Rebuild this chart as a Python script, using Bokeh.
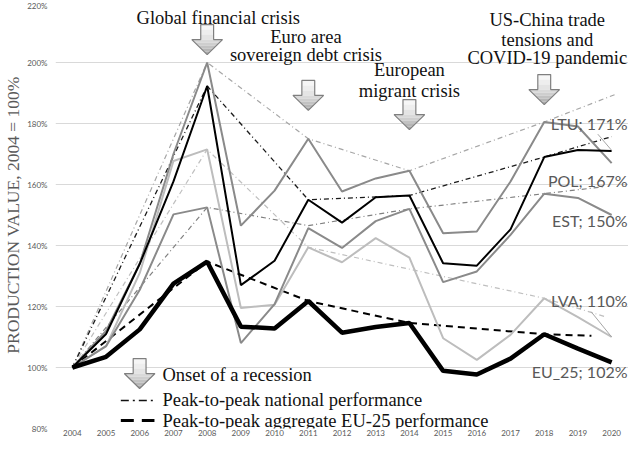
from bokeh.plotting import figure
from bokeh.models import Range1d, FixedTicker, Label
from bokeh.embed import file_html
from bokeh.resources import INLINE

# ---------------- data ----------------
years = list(range(2004, 2021))
ltu = [100, 112, 134, 170, 200, 146.5, 158, 175, 157.7, 162, 164.5, 144, 144.6, 161, 180.5, 179, 167]
pol = [100, 111, 134, 161, 192.3, 127, 135, 155, 147.5, 155.8, 156.4, 134.2, 133.4, 145.3, 169, 171.3, 171]
est = [100, 107, 125.5, 150.2, 152.5, 108, 120.8, 145.7, 139.2, 148, 152, 128, 131.5, 143.5, 157, 155.6, 150]
lva = [100, 107, 131, 167.7, 171.5, 119.5, 120.6, 139.4, 134.5, 142.4, 136, 109.6, 102.5, 110.7, 122.7, 116.5, 110]
eu25 = [100, 103.5, 112.5, 127.5, 134.7, 113.4, 112.8, 121.8, 111.4, 113.3, 114.6, 98.9, 97.7, 102.9, 110.9, 106.2, 101.7]

# peak-to-peak lines (years, values)
ltu_p2p_x = [2004, 2008, 2011, 2014, 2018, 2020.1]
ltu_p2p_y = [100, 200, 175, 164.5, 180.5, 189.5]
pol_p2p_x = [2004, 2008, 2011, 2014, 2018, 2020]
pol_p2p_y = [100, 192.3, 155, 156.4, 169, 175.7]
est_p2p_x = [2004, 2008, 2011, 2014, 2018, 2019.8]
est_p2p_y = [100, 152.5, 146.5, 152, 157, 159.3]
lva_p2p_x = [2004, 2008, 2011, 2018, 2019.8]
lva_p2p_y = [100, 171.5, 139.4, 122.7, 116.7]
eu_p2p_x = [2004, 2008, 2011, 2014, 2018, 2019.4]
eu_p2p_y = [100, 134.7, 121.8, 114.6, 110.9, 110.4]

end_labels = ["LTU; 171%", "POL; 167%", "EST; 150%", "LVA; 110%", "EU_25; 102%"]
end_label_y = [180.0, 161.3, 148.2, 122.0, 98.7]
# data-label leader lines (label side -> line end)
leader_x = [[2019.59, 2020.0], [2019.39, 2020.0]]
leader_y = [[176.5, 171.2], [118.3, 110.0]]

event_years = [2008, 2011, 2014, 2018]
event_tip = [202.6, 184.3, 178.0, 186.2]
event_text = [["Global financial crisis"],
              ["Euro area", "sovereign debt crisis"],
              ["European", "migrant crisis"],
              ["US-China trade", "tensions and", "COVID-19 pandemic"]]
event_text_x = [2008.33, 2010.93, 2014.0, 2018.09]
event_text_y = [[214.75], [208.2, 202.3], [197.4, 190.8], [213.8, 207.5, 201.6]]

legend_text = ["Onset of a recession", "Peak-to-peak national performance",
               "Peak-to-peak aggregate EU-25 performance"]

y_ticks = [80, 100, 120, 140, 160, 180, 200, 220]
y_tick_labels = ["80%", "100%", "120%", "140%", "160%", "180%", "200%", "220%"]

# ---------------- figure ----------------
W, H = 628, 438
LEFT, TOP, BOTTOM = 49, 1, 10
X0, X1 = 2003.5, 2020.5
Y0, Y1 = 80, 220
FRAME_W, FRAME_H = W - LEFT, H - TOP - BOTTOM
PX_X = FRAME_W / (X1 - X0)
PX_Y = FRAME_H / (Y1 - Y0)

p = figure(width=W, height=H, output_backend="svg", toolbar_location=None,
           x_range=Range1d(X0, X1), y_range=Range1d(Y0, Y1),
           min_border_left=LEFT, min_border_right=0,
           min_border_top=TOP, min_border_bottom=BOTTOM)
p.outline_line_color = None
p.background_fill_color = "white"
p.xgrid.grid_line_color = None
p.ygrid.grid_line_color = "#d9d9d9"
p.ygrid.grid_line_width = 1

p.yaxis.ticker = FixedTicker(ticks=y_ticks)
p.yaxis.major_label_overrides = {t: l for t, l in zip(y_ticks, y_tick_labels)}
p.xaxis.ticker = FixedTicker(ticks=years)
p.xaxis.major_label_overrides = {y: str(y) for y in years}
for ax in (p.xaxis[0], p.yaxis[0]):
    ax.axis_line_color = None
    ax.major_tick_line_color = None
    ax.minor_tick_line_color = None
    ax.major_tick_out = 0
    ax.major_tick_in = 0
    ax.minor_tick_out = 0
    ax.minor_tick_in = 0
    ax.major_label_text_font = "Lato"
    ax.major_label_text_font_size = "8px"
    ax.major_label_text_color = "#595959"
p.xaxis.major_label_standoff = 1
p.yaxis.major_label_standoff = 8
p.yaxis.axis_label = "PRODUCTION VALUE, 2004 = 100%"
p.yaxis.axis_label_text_font = "Liberation Serif"
p.yaxis.axis_label_text_font_style = "normal"
p.yaxis.axis_label_text_font_size = "17.5px"
p.yaxis.axis_label_text_color = "#595959"
p.yaxis.axis_label_standoff = 1

# ---------------- peak-to-peak lines ----------------
DD = "5 3 1 3"
p.line(ltu_p2p_x, ltu_p2p_y, line_color="#a6a6a6", line_width=1.2, line_dash=DD)
p.line(pol_p2p_x, pol_p2p_y, line_color="#1a1a1a", line_width=1.3, line_dash=DD)
p.line(est_p2p_x, est_p2p_y, line_color="#808080", line_width=1.2, line_dash=DD)
p.line(lva_p2p_x, lva_p2p_y, line_color="#bfbfbf", line_width=1.2, line_dash=DD)
p.line(eu_p2p_x, eu_p2p_y, line_color="#000000", line_width=2, line_dash="7 5")

# ---------------- series ----------------
p.line(years, lva, line_color="#bdbdbd", line_width=2)
p.line(years, est, line_color="#8a8a8a", line_width=2)
p.line(years, ltu, line_color="#8a8a8a", line_width=2)
p.line(years, pol, line_color="#000000", line_width=2)
p.line(years, eu25, line_color="#000000", line_width=4.5)

p.multi_line(leader_x, leader_y, line_color="#a6a6a6", line_width=1)

label_right = X0 + (W - 1 - LEFT) / PX_X
for lab, ly in zip(end_labels, end_label_y):
    p.add_layout(Label(x=label_right, y=ly, text=lab, text_font="Lato",
                       text_font_size="16px", text_color="#595959",
                       text_align="right", text_baseline="middle"))

# ---------------- arrows ----------------
ARW_W, ARW_SHAFT, ARW_H, ARW_HEAD = 31, 13, 30, 15
shades = ["#f6f6f6", "#eeeeee", "#e4e4e4", "#d9d9d9", "#cecece", "#c2c2c2", "#b6b6b6", "#aaaaaa"]


def arrow(xc, tip):
    hw = ARW_W / 2 / PX_X
    sw = ARW_SHAFT / 2 / PX_X
    top = tip + ARW_H / PX_Y
    mid = tip + ARW_HEAD / PX_Y
    xs, ys = [], []
    n_sh = 3
    for i in range(n_sh):
        a = top - (top - mid) * i / n_sh
        b = top - (top - mid) * (i + 1) / n_sh
        xs.append([xc - sw, xc + sw, xc + sw, xc - sw])
        ys.append([a, a, b, b])
    n_hd = 5
    for i in range(n_hd):
        a = mid - (mid - tip) * i / n_hd
        b = mid - (mid - tip) * (i + 1) / n_hd
        wa = hw * (a - tip) / (mid - tip)
        wb = hw * (b - tip) / (mid - tip)
        xs.append([xc - wa, xc + wa, xc + wb, xc - wb])
        ys.append([a, a, b, b])
    p.patches(xs, ys, fill_color=shades, line_color=None)
    p.patch([xc - sw, xc + sw, xc + sw, xc + hw, xc, xc - hw, xc - sw, xc - sw],
            [top, top, mid, mid, tip, mid, mid, top],
            fill_alpha=0, line_color="#7f7f7f", line_width=1.2)


for ex, et in zip(event_years, event_tip):
    arrow(ex, et)


def serif_label(x, y, txt, align):
    p.add_layout(Label(x=x, y=y, text=txt, text_font="Liberation Serif",
                       text_font_size="18.5px", text_color="#111111",
                       text_align=align, text_baseline="middle"))


for tx, tys, lines in zip(event_text_x, event_text_y, event_text):
    for ty, ln in zip(tys, lines):
        serif_label(tx, ty, ln, "center")

# ---------------- legend ----------------
leg_x0 = X0 + (123 - 57) / PX_X
leg_x1 = X0 + (157 - 57) / PX_X
leg_tx = X0 + (165 - 57) / PX_X
leg_arrow_x = X0 + (142 - 57) / PX_X
leg_y = [97.7, 89.2, 82.6]
arrow(leg_arrow_x, 93.1)
p.line([leg_x0, leg_x1], [leg_y[1]] * 2, line_color="#111111", line_width=1.5, line_dash="8 4 2 4")
p.line([leg_x0, leg_x1], [leg_y[2]] * 2, line_color="#000000", line_width=3, line_dash="13 8")
for ly, lt in zip(leg_y, legend_text):
    serif_label(leg_tx, ly, lt, "left")

open("out.html", "w").write(file_html(p, INLINE))
